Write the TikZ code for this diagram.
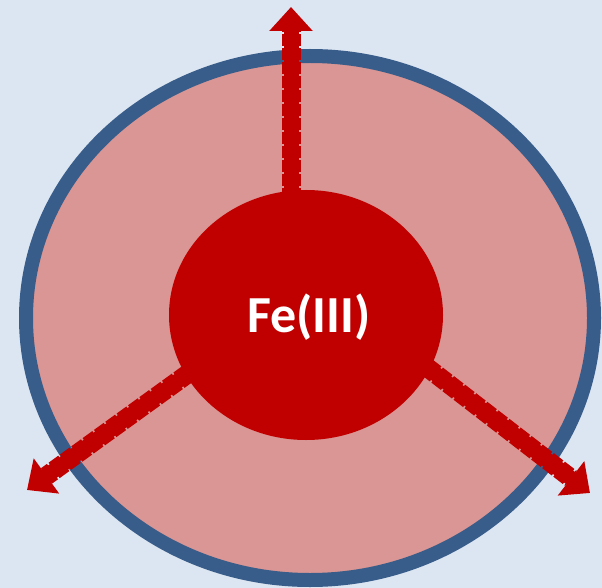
\documentclass[tikz,border=0pt]{standalone}
\usepackage{fontspec}
\usepackage{xcolor}
\usepackage{tikz}
\usetikzlibrary{arrows.meta,calc}
\newfontfamily\labelfont{Carlito}
\definecolor{pagebg}{HTML}{DCE6F2}
\definecolor{shellblue}{HTML}{385D8A}
\definecolor{shellfill}{HTML}{D99694}
\definecolor{ferred}{HTML}{C00000}

\begin{document}
\begin{tikzpicture}[
  x=1pt,y=-1pt,
  shell/.style={draw=shellblue,line width=14pt,fill=shellfill},
  bond/.style={ferred,line width=19pt,dash pattern=on 12pt off 2pt},
  bondcore/.style={ferred,line width=15pt,-{Triangle[length=24pt,width=42pt]}}
]
  \fill[pagebg] (0,0) rectangle (602,588);
  \useasboundingbox (0,0) rectangle (602,588);

  \draw[shell] (310,318) ellipse [x radius=284,y radius=262];

  \coordinate (upstart) at (291,200);
  \coordinate (upend)   at (291,7);
  \coordinate (lstart)  at (200,365);
  \coordinate (lend)    at (27,490);
  \coordinate (rstart)  at (415,358);
  \coordinate (rend)    at (590,493);

  \draw[bond] (upstart) -- ($(upend)!24pt!(upstart)$);
  \draw[bond] (lstart) -- ($(lend)!24pt!(lstart)$);
  \draw[bond] (rstart) -- ($(rend)!24pt!(rstart)$);
  \draw[bondcore] (upstart) -- (upend);
  \draw[bondcore] (lstart) -- (lend);
  \draw[bondcore] (rstart) -- (rend);

  \fill[ferred] (306,315) ellipse [x radius=137,y radius=125];
  \node[text=white,font=\labelfont\bfseries\fontsize{52}{52}\selectfont] (fe) at (309,317) {Fe(III)};
\end{tikzpicture}
\end{document}
